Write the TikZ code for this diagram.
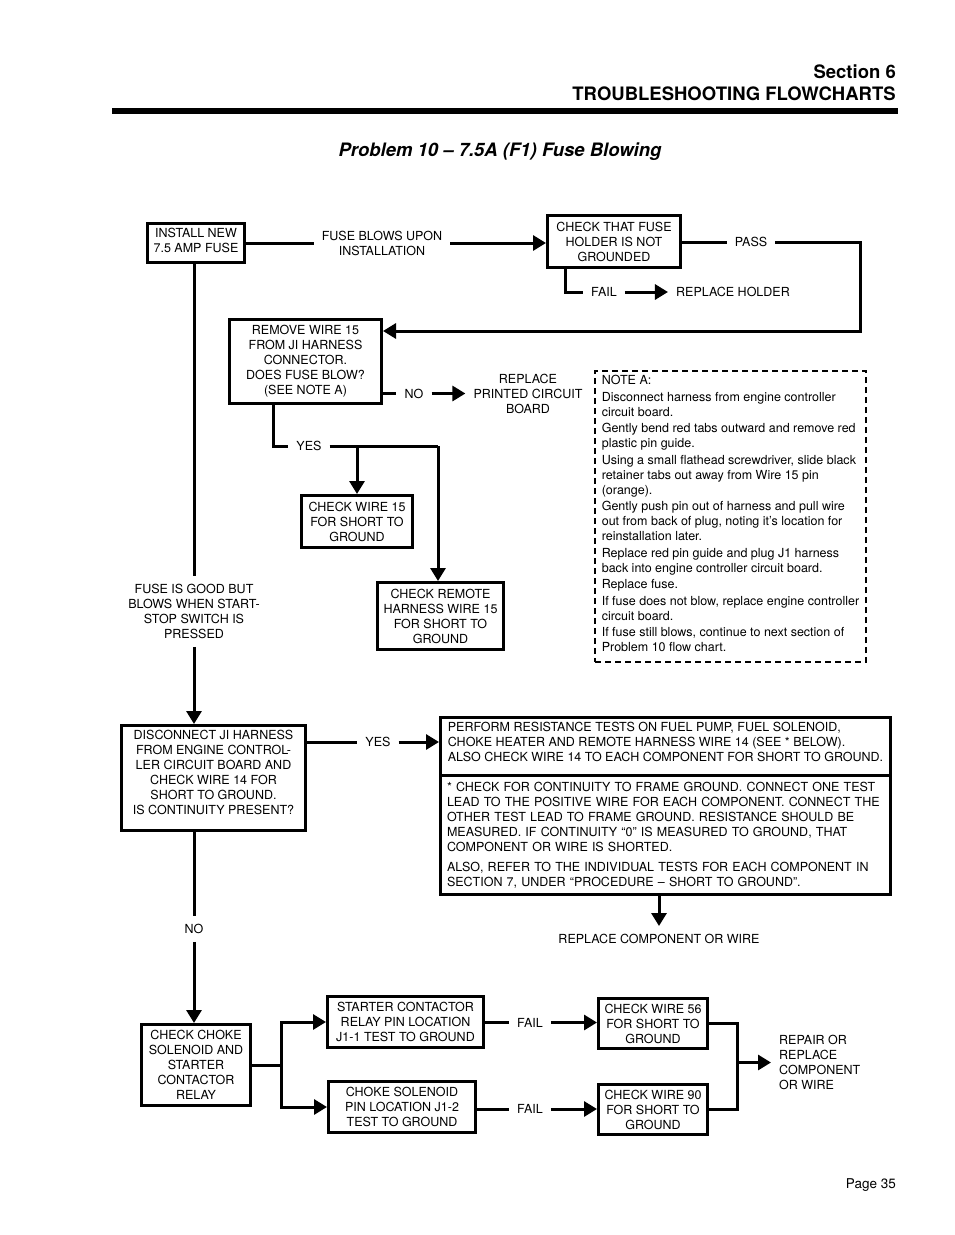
\documentclass[tikz,border=0pt]{standalone}
\usepackage{fontspec}
\setmainfont{TeX Gyre Heros}
\usetikzlibrary{arrows.meta}

\begin{document}
\begin{tikzpicture}[x=1pt,y=-1pt,
	every node/.style={font=\fontsize{12.5}{15}\selectfont},
	box/.style={draw,line width=3pt,align=center,inner sep=2pt},
	notebox/.style={draw,line width=2pt,dash pattern=on 6pt off 4pt,align=left,inner xsep=5pt},
	lbl/.style={align=center,inner sep=8pt},
	conn/.style={line width=3pt},
	>={Triangle[length=13pt,width=15pt]}]
	\useasboundingbox (0,0) rectangle (954,1235);
	
	% page head
	\node[anchor=base east,font=\fontsize{18.5}{22}\selectfont\bfseries,inner sep=0pt] (sect) at (896,78.5) {Section 6};
	\node[anchor=base east,font=\fontsize{18.5}{22}\selectfont\bfseries,inner sep=0pt] (chap) at (896,100.5) {TROUBLESHOOTING FLOWCHARTS};
	\fill (112,108) rectangle (898,114);
	\node[anchor=base,font=\fontsize{18.5}{22}\selectfont\bfseries\itshape,inner sep=0pt] (title) at (500,156.5) {Problem 10 – 7.5A (F1) Fuse Blowing};
	
	% boxes
	\node[box,minimum width=97,minimum height=39] (install) at (196,243) {INSTALL NEW\\7.5 AMP FUSE\rule[-5pt]{0pt}{5pt}};
	\node[box,minimum width=133,minimum height=52] (holder) at (614,241.5) {CHECK THAT FUSE\\HOLDER IS NOT\\GROUNDED};
	\node[box,minimum width=152,minimum height=84] (remove) at (305.5,361.5) {REMOVE WIRE 15\\FROM JI HARNESS\\CONNECTOR.\\DOES FUSE BLOW?\\(SEE NOTE A)};
	\node[box,minimum width=111,minimum height=52] (wire15) at (357,521.5) {CHECK WIRE 15\\FOR SHORT TO\\GROUND};
	\node[box,minimum width=126,minimum height=67] (remote) at (440.5,616) {CHECK REMOTE\\HARNESS WIRE 15\\FOR SHORT TO\\GROUND};
	\node[box,minimum width=184,minimum height=105] (disc) at (213.5,778) {DISCONNECT JI HARNESS\\FROM ENGINE CONTROL-\\LER CIRCUIT BOARD AND\\CHECK WIRE 14 FOR\\SHORT TO GROUND.\\IS CONTINUITY PRESENT?\rule[-11pt]{0pt}{11pt}};
	\node[box,align=left,minimum width=450,minimum height=57.5] (perfa) at (665.5,746.25) {PERFORM RESISTANCE TESTS ON FUEL PUMP, FUEL SOLENOID,\\CHOKE HEATER AND REMOTE HARNESS WIRE 14 (SEE * BELOW).\\ALSO CHECK WIRE 14 TO EACH COMPONENT FOR SHORT TO GROUND.\rule[-8pt]{0pt}{8pt}};
	\node[box,align=left,text width=437,inner xsep=6.5pt,minimum height=119.5] (perfb) at (665.5,834.75) {* CHECK FOR CONTINUITY TO FRAME GROUND. CONNECT ONE TEST\\LEAD TO THE POSITIVE WIRE FOR EACH COMPONENT. CONNECT THE\\OTHER TEST LEAD TO FRAME GROUND. RESISTANCE SHOULD BE\\MEASURED. IF CONTINUITY “0” IS MEASURED TO GROUND, THAT\\COMPONENT OR WIRE IS SHORTED.\\[5pt]ALSO, REFER TO THE INDIVIDUAL TESTS FOR EACH COMPONENT IN\\SECTION 7, UNDER “PROCEDURE – SHORT TO GROUND”.};
	\node[box,minimum width=109,minimum height=81] (choke) at (196,1065) {CHECK CHOKE\\SOLENOID AND\\STARTER\\CONTACTOR\\RELAY};
	\node[box,minimum width=156,minimum height=51] (starter) at (405.5,1022) {STARTER CONTACTOR\\RELAY PIN LOCATION\\J1-1 TEST TO GROUND};
	\node[box,minimum width=147,minimum height=51] (chokesol) at (402,1107) {CHOKE SOLENOID\\PIN LOCATION J1-2\\TEST TO GROUND};
	\node[box,minimum width=109,minimum height=50] (wire56) at (653,1023.5) {CHECK WIRE 56\\FOR SHORT TO\\GROUND};
	\node[box,minimum width=109,minimum height=50] (wire90) at (653,1109.5) {CHECK WIRE 90\\FOR SHORT TO\\GROUND};
	
	\node[notebox,minimum width=271,minimum height=291] (noteA) at (730.5,516.5) {NOTE A:\\[1.5pt]
		Disconnect harness from engine controller\\circuit board.\\[1.5pt]
		Gently bend red tabs outward and remove red\\plastic pin guide.\\[1.5pt]
		Using a small flathead screwdriver, slide black\\retainer tabs out away from Wire 15 pin\\(orange).\\[1.5pt]
		Gently push pin out of harness and pull wire\\out from back of plug, noting it’s location for\\reinstallation later.\\[1.5pt]
		Replace red pin guide and plug J1 harness\\back into engine controller circuit board.\\[1.5pt]
		Replace fuse.\\[1.5pt]
		If fuse does not blow, replace engine controller\\circuit board.\\[1.5pt]
		If fuse still blows, continue to next section of\\Problem 10 flow chart.\rule[-6pt]{0pt}{6pt}};
	
	% labels on the lines
	\node[lbl] (fblow) at (382,243) {FUSE BLOWS UPON\\INSTALLATION};
	\node[lbl] (pass) at (751,242) {PASS};
	\node[lbl] (fail1) at (604,292) {FAIL};
	\node[lbl] (rholder) at (733,292) {REPLACE HOLDER};
	\node[lbl] (no1) at (414,393.5) {NO};
	\node[lbl] (pcb) at (528,393.5) {REPLACE\\PRINTED CIRCUIT\\BOARD};
	\node[lbl] (yes1) at (309,446) {YES};
	\node[lbl] (fgood) at (194,611.5) {FUSE IS GOOD BUT\\BLOWS WHEN START-\\STOP SWITCH IS\\PRESSED};
	\node[lbl] (yes2) at (378,742) {YES};
	\node[lbl] (rcw) at (659,939) {REPLACE COMPONENT OR WIRE};
	\node[lbl] (no2) at (194,929) {NO};
	\node[lbl] (fail2) at (530,1022.5) {FAIL};
	\node[lbl] (fail3) at (530,1109) {FAIL};
	\node[lbl,align=left,anchor=west] (repair) at (771,1062.5) {REPAIR OR\\REPLACE\\COMPONENT\\OR WIRE};
	
	\coordinate (passc) at (860,242);
	\coordinate (loopc) at (860,331);
	\coordinate (failc) at (565,292);
	\coordinate (yesc) at (273,446);
	\coordinate (yesr) at (438,446);
	\coordinate (split) at (281,1065);
	\coordinate (merge) at (737,1062.5);
	
	% connectors
	\draw[conn] (install) -- (fblow);
	\draw[conn,->] (fblow) -- (holder.west |- fblow);
	\draw[conn] (holder.east |- pass) -- (pass);
	\draw[conn,->] (pass) -- (passc) -- (loopc) -- (remove.east |- loopc);
	\draw[conn] (holder.south -| failc) -- (failc) -- (fail1);
	\draw[conn,->] (fail1) -- (rholder);
	\draw[conn] (remove.east |- no1) -- (no1);
	\draw[conn,->] (no1) -- (pcb);
	\draw[conn] (remove.south -| yesc) -- (yesc) -- (yes1);
	\draw[conn] (yes1) -- (yesr);
	\draw[conn,->] (wire15.north |- yesr) -- (wire15.north);
	\draw[conn,->] (yesr) -- (remote.north -| yesr);
	\draw[conn] (install.south -| fgood) -- (fgood);
	\draw[conn,->] (fgood) -- (disc.north -| fgood);
	\draw[conn] (disc.east |- yes2) -- (yes2);
	\draw[conn,->] (yes2) -- (perfa.west |- yes2);
	\draw[conn,->] (perfb.south -| rcw) -- (rcw);
	\draw[conn] (disc.south -| no2) -- (no2);
	\draw[conn,->] (no2) -- (choke.north -| no2);
	\draw[conn] (choke) -- (split);
	\draw[conn,->] (split) |- (starter);
	\draw[conn,->] (split) |- (chokesol);
	\draw[conn] (starter.east |- fail2) -- (fail2);
	\draw[conn,->] (fail2) -- (wire56.west |- fail2);
	\draw[conn] (chokesol.east |- fail3) -- (fail3);
	\draw[conn,->] (fail3) -- (wire90.west |- fail3);
	\draw[conn] (wire56) -| (merge);
	\draw[conn] (wire90) -| (merge);
	\draw[conn,->] (merge) -- (repair);
	
	\node[anchor=base east,inner sep=0pt,font=\fontsize{13.5}{16}\selectfont] (page) at (896,1188.5) {Page 35};
\end{tikzpicture}
\end{document}
